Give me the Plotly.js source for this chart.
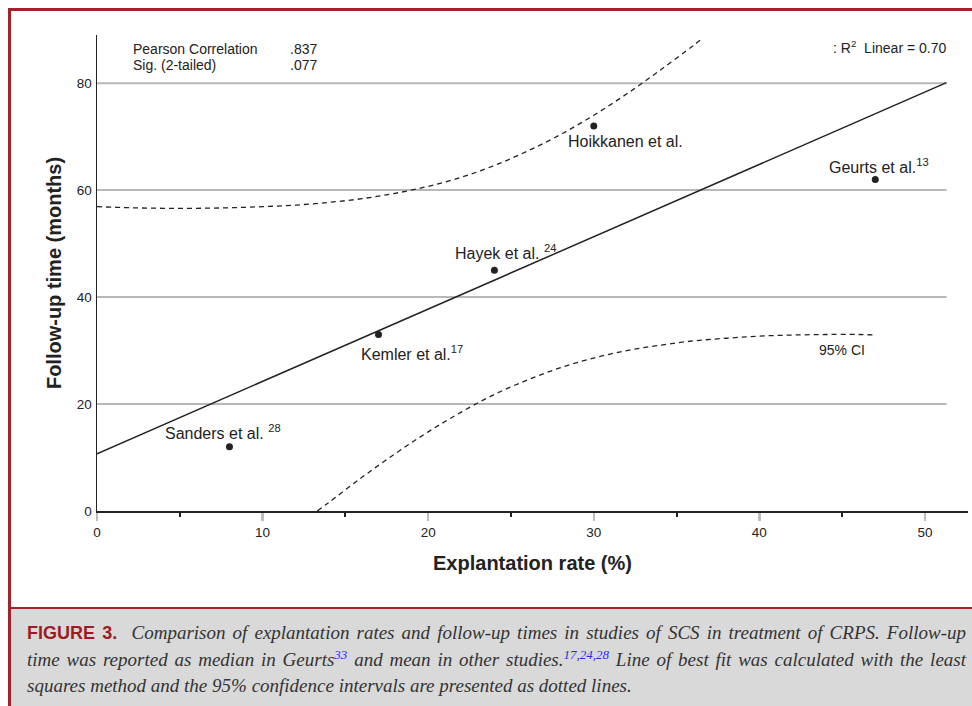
<!DOCTYPE html>
<html>
<head>
<meta charset="utf-8">
<script src="https://cdn.plot.ly/plotly-3.0.1.min.js"></script>
<style>
  html, body { margin:0; padding:0; background:#fff; }
  #wrap { position:relative; width:972px; height:706px; overflow:hidden; background:#fff; }
  #chart { position:absolute; left:0; top:0; width:972px; height:607px; }
  .frame { position:absolute; background:#a4232b; }
  #caption { position:absolute; left:11px; top:609px; width:961px; height:97px; background:#d9d9d9; box-sizing:border-box; padding:11px 6px 0 16px; }
  .cl { font-family:"Liberation Serif", "DejaVu Serif", serif; font-style:italic; font-size:19px; line-height:26.5px; color:#333; white-space:nowrap; }
  .just { text-align:justify; text-align-last:justify; }
  .fig { font-family:"Liberation Sans", Arial, sans-serif; font-style:normal; font-weight:bold; font-size:18px; color:#9b1c23; }
  .ref { color:#2a2af0; font-size:13px; vertical-align:7px; line-height:0; }
</style>
</head>
<body>
<div id="wrap">
  <div id="chart"></div>
  <div class="frame" style="left:8px; top:8px; width:964px; height:3px;"></div>
  <div class="frame" style="left:8px; top:8px; width:3px; height:698px;"></div>
  <div id="caption">
    <div class="cl just"><span class="fig">FIGURE 3.</span>&nbsp; Comparison of explantation rates and follow-up times in studies of SCS in treatment of CRPS. Follow-up</div>
    <div class="cl just">time was reported as median in Geurts<span class="ref">33</span> and mean in other studies.<span class="ref">17,24,28</span> Line of best fit was calculated with the least</div>
    <div class="cl">squares method and the 95% confidence intervals are presented as dotted lines.</div>
  </div>
  <div class="frame" style="left:8px; top:607px; width:964px; height:2px;"></div>
</div>
<script>
// ---- data ----
const studies      = ['Sanders et al.', 'Kemler et al.', 'Hayek et al.', 'Hoikkanen et al.', 'Geurts et al.'];
const studyRefs    = ['28', '17', '24', '', '13'];
const explantRate  = [8, 17, 24, 30, 47];
const followUp     = [12, 33, 45, 72, 62];

const fitX = [0, 51.3];
const fitY = [10.7, 80.1];

const ciUpperX = [0, 2, 4, 6, 8, 10, 12, 14, 16, 18, 20, 22, 24, 26, 28, 30, 32, 34, 36, 36.5];
const ciUpperY = [56.9, 56.7, 56.6, 56.6, 56.7, 56.9, 57.2, 57.7, 58.4, 59.4, 60.7, 62.4, 64.6, 67.3, 70.4, 74.0, 78.0, 82.4, 87.0, 88.2];
const ciLowerX = [13.3, 14, 16, 18, 20, 22, 24, 26, 28, 30, 32, 34, 36, 38, 40, 42, 44, 46, 47];
const ciLowerY = [0.0, 1.6, 6.3, 10.7, 14.8, 18.5, 21.8, 24.5, 26.8, 28.6, 30.0, 31.0, 31.8, 32.3, 32.7, 32.9, 33.0, 33.0, 32.9];

const xTickVals = [0, 10, 20, 30, 40, 50];
const yTickVals = [0, 20, 40, 60, 80];
const gridVals  = [20, 40, 60, 80];

const statLabels = ['Pearson Correlation', 'Sig. (2-tailed)'];
const statValues = ['.837', '.077'];
const r2Text = ': R<sup>2</sup>  Linear = 0.70';
const ciText = '95% CI';

// ---- style / placement ----
const ink = '#222';
const FONT = '"Liberation Sans", Arial, Helvetica, sans-serif';
const xRange = [0, 52.6];
const yRange = [0, 89];
const gridEnd = 51.3;
const labelShift = [[-6, 15], [33, -18], [11, 18], [32, -16], [4, 13]];
const labelSpace = [' ', '', ' ', '', ''];

const traces = [
  { x: fitX, y: fitY, mode: 'lines', line: {color: ink, width: 1.5}, hoverinfo: 'skip' },
  { x: ciUpperX, y: ciUpperY, mode: 'lines', line: {color: ink, width: 1.3, dash: '5px,4px', shape: 'spline'}, hoverinfo: 'skip' },
  { x: ciLowerX, y: ciLowerY, mode: 'lines', line: {color: ink, width: 1.3, dash: '5px,4px', shape: 'spline'}, hoverinfo: 'skip' },
  { x: explantRate, y: followUp, mode: 'markers', marker: {color: ink, size: 7}, text: studies }
];

const shapes = gridVals.map(v => ({
  type: 'line', xref: 'x', yref: 'y', x0: 0, x1: gridEnd, y0: v, y1: v,
  line: {color: '#b8b8b8', width: 2}, layer: 'below'
}));

const annotations = [];
studies.forEach((s, i) => {
  annotations.push({
    x: explantRate[i], y: followUp[i], xref: 'x', yref: 'y', showarrow: false,
    text: s + (studyRefs[i] ? labelSpace[i] + '<sup>' + studyRefs[i] + '</sup>' : ''),
    xshift: labelShift[i][0], yshift: labelShift[i][1],
    xanchor: 'center', yanchor: 'middle',
    font: {family: FONT, size: 16, color: ink}
  });
});
statLabels.forEach((s, i) => {
  annotations.push({ xref: 'paper', yref: 'paper', x: 0.0385, y: 0.9706 - i * 0.0336, xanchor: 'left', yanchor: 'middle',
    showarrow: false, text: s, font: {family: FONT, size: 14, color: ink} });
  annotations.push({ xref: 'paper', yref: 'paper', x: 0.2193, y: 0.9706 - i * 0.0336, xanchor: 'left', yanchor: 'middle',
    showarrow: false, text: statValues[i], font: {family: FONT, size: 14, color: ink} });
});
annotations.push({ xref: 'paper', yref: 'paper', x: 0.977, y: 0.975, xanchor: 'right', yanchor: 'middle',
  showarrow: false, text: r2Text, font: {family: FONT, size: 14, color: ink} });
annotations.push({ xref: 'paper', yref: 'paper', x: 0.8553, y: 0.338, xanchor: 'center', yanchor: 'middle',
  showarrow: false, text: ciText, font: {family: FONT, size: 14, color: ink} });

const layout = {
  width: 972, height: 607,
  margin: {l: 97, r: 4, t: 35, b: 96},
  paper_bgcolor: 'rgba(0,0,0,0)', plot_bgcolor: 'rgba(0,0,0,0)',
  showlegend: false,
  font: {family: FONT, color: ink},
  xaxis: {
    range: xRange, tickvals: xTickVals, showgrid: false, zeroline: false,
    showline: true, linecolor: ink, linewidth: 1.5,
    ticks: 'outside', ticklen: 8, tickwidth: 2.5, tickcolor: '#bdbdbd',
    minor: {dtick: 5, tick0: 0, ticks: 'outside', ticklen: 4, tickwidth: 2, tickcolor: ink, showgrid: false},
    tickfont: {family: FONT, size: 13.5, color: ink},
    title: {text: '<b>Explantation rate (%)</b>', font: {family: FONT, size: 20, color: ink}, standoff: 17}
  },
  yaxis: {
    range: yRange, tickvals: yTickVals, showgrid: false, zeroline: false,
    showline: true, linecolor: ink, linewidth: 1.5,
    ticks: '', ticklabelstandoff: 1,
    tickfont: {family: FONT, size: 13.5, color: ink},
    title: {text: '<b>Follow-up time (months)</b>', font: {family: FONT, size: 20, color: ink}, standoff: 10}
  },
  shapes: shapes,
  annotations: annotations
};

Plotly.newPlot('chart', traces, layout, {staticPlot: true, displayModeBar: false});
</script>
</body>
</html>
